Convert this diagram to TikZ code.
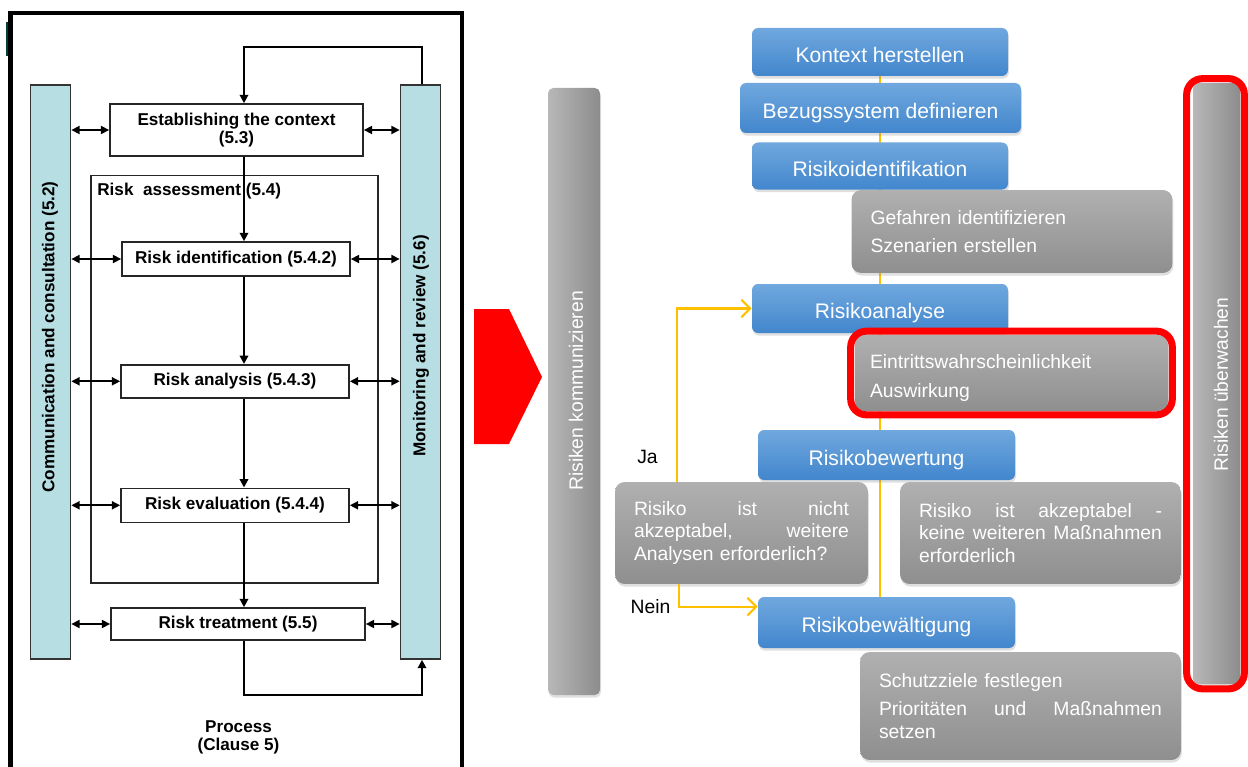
\documentclass[tikz,border=0pt]{standalone}
\usepackage{fontspec}
\setmainfont{Liberation Sans}
\usetikzlibrary{arrows.meta,calc,shadows,backgrounds}

\definecolor{cyanbar}{RGB}{183,222,226}
\definecolor{blueTop}{RGB}{112,168,222}
\definecolor{blueBot}{RGB}{66,134,205}
\definecolor{amber}{RGB}{255,192,0}
\definecolor{alarm}{RGB}{255,0,0}

\tikzset{
  wh/.style 2 args={minimum width=#1*0.02cm, minimum height=#2*0.02cm},
  isofont/.style={font=\fontsize{9.75}{10.4}\selectfont\bfseries},
  isobox/.style={draw=black!85, line width=0.9pt, fill=white, inner sep=0pt, align=center, isofont},
  isobar/.style={draw=black!80, line width=0.9pt, fill=cyanbar, inner sep=0pt},
  duplex/.style={{Triangle[length=4.8pt,width=4.6pt]}-{Triangle[length=4.8pt,width=4.6pt]}, line width=1.1pt},
  flow/.style={-{Triangle[length=4.8pt,width=4.8pt]}, line width=1.2pt},
  softshadow/.style={drop shadow={shadow xshift=0.5pt, shadow yshift=-1.5pt, opacity=0.25}},
  stepblue/.style={rounded corners=3.5pt, top color=blueTop, bottom color=blueBot, text=white,
    inner sep=0pt, text height=13.5pt, text depth=2pt, font=\fontsize{12}{14}\selectfont, softshadow},
  infogrey/.style={rounded corners=5.5pt, top color=black!31, bottom color=black!44, text=white,
    inner xsep=0.38cm, inner ysep=0pt, align=left, font=\fontsize{11}{13}\selectfont, softshadow},
  sidebar/.style={rounded corners=3pt, left color=black!28, right color=black!45, inner sep=0pt, softshadow},
  sidetext/.style={text=white, rotate=90, font=\fontsize{11}{13}\selectfont},
  yline/.style={draw=amber, line width=1.2pt},
  yarrow/.style={yline, -{Straight Barb[length=5pt,width=10pt,line width=1.2pt]}},
}

\begin{document}
\begin{tikzpicture}[x=0.02cm, y=-0.02cm]
  \useasboundingbox (0,0) rectangle (1248,767);

  %%%%% ISO 31000 process %%%%%
  \draw[line width=2.3pt] (10.5,767) -- (10.5,13) -- (462,13) -- (462,767);
  \fill[teal!50!black] (6,22) rectangle (8,56);

  \node[isobar, wh={40}{574}] (comm) at (50.5,372) {};
  \node[isobar, wh={40}{574}] (monitor) at (420.5,372) {};
  \node[isofont, rotate=90] (commtext) at (50,337) {Communication and consultation (5.2)};
  \node[isofont, rotate=90] (montext) at (421,346) {Monitoring and review (5.6)};

  \draw[line width=0.9pt, draw=black!85] (91,175.5) rectangle (378,583);
  \node[isofont, anchor=west, inner sep=0pt] (assess) at (97,191.5) {Risk\ \ assessment (5.4)};

  \node[isobox, wh={253}{52}] (context) at (236.5,130) {Establishing the context\\(5.3)};
  \node[isobox, wh={228}{34}] (ident) at (236,259) {Risk identification (5.4.2)};
  \node[isobox, wh={228}{33}] (analysis) at (235,381.3) {Risk analysis (5.4.3)};
  \node[isobox, wh={228}{34}] (evaluation) at (235,505.3) {Risk evaluation (5.4.4)};
  \node[isobox, wh={254}{32}] (treatment) at (238,624) {Risk treatment (5.5)};
  \node[isofont, align=center] (process) at (238.5,737.5) {Process\\(Clause 5)};

  \coordinate (spine) at (244,0);
  \coordinate (loopX) at (422,0);
  \draw[flow] (context.south -| spine) -- (ident.north -| spine);
  \draw[flow] (ident.south -| spine) -- (analysis.north -| spine);
  \draw[flow] (analysis.south -| spine) -- (evaluation.north -| spine);
  \draw[flow] (evaluation.south -| spine) -- (treatment.north -| spine);
  \draw[flow] (monitor.north -| loopX) -- ++(0,-37) -| (context.north -| spine);
  \draw[flow] (treatment.south -| spine) -- ++(0,54) -| (monitor.south -| loopX);

  \foreach \b in {context,ident,analysis,evaluation,treatment}{
    \draw[duplex] (comm.east |- \b.west) -- (\b.west);
    \draw[duplex] (\b.east) -- (monitor.west |- \b.east);
  }

  % red arrow
  \fill[alarm] (474,309) -- (509,309) -- (542,377) -- (509,444) -- (474,444) -- cycle;

  %%%%% Risikomanagement %%%%%
  \node[sidebar, wh={52}{607}] (talk) at (574,391.5) {};
  \node[sidetext] (talktext) at (576,391) {Risiken kommunizieren};
  \node[sidebar, wh={47}{601}] (watch) at (1216.5,383.5) {};
  \draw[alarm, line width=4pt, rounded corners=9pt]
    ($(watch.north west)+(-6,-4)$) rectangle ($(watch.south east)+(4,4.5)$);
  \node[sidetext] (watchtext) at (1221,384.5) {Risiken überwachen};

  \node[stepblue, wh={256}{48}] (kontext) at (880,52) {Kontext herstellen};
  \node[stepblue, wh={281}{50}] (bezug) at (880.5,108) {Bezugssystem definieren};
  \node[stepblue, wh={256}{47}] (riskid) at (880,166) {Risikoidentifikation};
  \node[infogrey, minimum height=1.66cm, text width=5.66cm] (gefahren) at (1012,231.5)
    {Gefahren identifizieren\\[3.4pt]Szenarien erstellen};

  \node[stepblue, wh={256}{49}] (analyse) at (880,308.5) {Risikoanalyse};
  \node[infogrey, minimum height=1.52cm, text width=5.66cm, inner xsep=0.3cm, text height=13.5pt] (eintritt) at (1011.5,373)
    {Eintrittswahrscheinlichkeit\\[3.4pt]Auswirkung};
  \draw[alarm, line width=4pt, rounded corners=9pt]
    ($(eintritt.north west)+(-4,-3.5)$) rectangle ($(eintritt.south east)+(4,3.5)$);

  \node[stepblue, wh={257}{50}] (bewertung) at (886.5,455) {Risikobewertung};
  \node[infogrey, minimum height=2.04cm, text width=4.3cm] (nichtakz) at (741.5,533)
    {Risiko\hfill ist\hfill nicht\\akzeptabel,\hfill weitere\\Analysen erforderlich?};
  \node[infogrey, minimum height=2.04cm, text width=4.86cm] (akz) at (1040.5,533)
    {Risiko\hfill ist\hfill akzeptabel\hfill -\\keine\hfill weiteren\hfill Maßnahmen\\erforderlich};

  \node[stepblue, wh={257}{51}] (bewaelt) at (886.5,622.5) {Risikobewältigung};
  \node[infogrey, minimum height=2.16cm, text width=5.66cm] (schutz) at (1020.5,706)
    {Schutzziele festlegen\\[3.4pt]Prioritäten\hfill und\hfill Maßnahmen\\setzen};

  \begin{scope}[on background layer]
    \draw[yline] (kontext.south) -- (kontext.south |- bewaelt.north);
  \end{scope}

  \coordinate (jaX) at (677,0);
  \coordinate (neinX) at (679,0);
  \draw[yarrow] (nichtakz.north -| jaX) |- (analyse.west);
  \draw[yarrow] (nichtakz.south -| neinX) |- ($(bewaelt.north west)+(0,10)$);
  \node[font=\fontsize{11}{13}\selectfont] (ja) at (647.5,457) {Ja};
  \node[font=\fontsize{11}{13}\selectfont] (nein) at (650.5,607) {Nein};

\end{tikzpicture}
\end{document}
